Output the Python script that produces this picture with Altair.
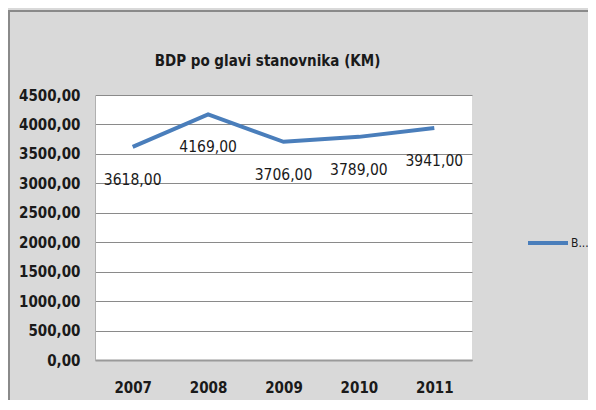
import altair as alt
import pandas as pd

years = ["2007", "2008", "2009", "2010", "2011"]
gdp = [3618, 4169, 3706, 3789, 3941]
series_name = "BDP po glavi stanovnika (KM)"
y_ticks = [0, 500, 1000, 1500, 2000, 2500, 3000, 3500, 4000, 4500]

df = pd.DataFrame({
    "year": years,
    "value": gdp,
    "series": [series_name] * len(years),
    "label": [f"{v:.2f}".replace(".", ",") for v in gdp],
})

FONT = "Liberation Sans Narrow, DejaVu Sans Condensed, sans-serif"

x_enc = alt.X("year:O", scale=alt.Scale(type="point", padding=0.5),
              axis=alt.Axis(title=None, labelAngle=0, ticks=False, domain=True,
                            domainColor="#9a9a9a", domainWidth=2,
                            labelFont=FONT, labelFontSize=15, labelFontWeight="bold",
                            labelColor="#1a1a1a", labelPadding=20, grid=False))
y_enc = alt.Y("value:Q", scale=alt.Scale(domain=[0, 4500], nice=False),
              axis=alt.Axis(title=None, values=y_ticks, ticks=False, labelOverlap=False,
                            domainColor="#b0b0b0", domainWidth=1,
                            gridColor="#8a8a8a", gridWidth=1,
                            labelExpr="replace(format(datum.value, '.2f'), '.', ',')",
                            labelFont=FONT, labelFontSize=15, labelFontWeight="bold",
                            labelColor="#1a1a1a", labelPadding=15))

frame = alt.Chart(pd.DataFrame({"a": [0]})).mark_rect(
    fill="transparent", stroke="#8a8a8a", strokeWidth=2
).encode(x=alt.value(-86), x2=alt.value(620), y=alt.value(-84), y2=alt.value(400))

line = alt.Chart(df).mark_line(strokeWidth=4).encode(
    x=x_enc, y=y_enc,
    color=alt.Color("series:N", scale=alt.Scale(range=["#4a7ebb"]),
                    legend=alt.Legend(title=None, orient="none", legendX=431, legendY=126,
                                      symbolType="stroke", symbolSize=1600, symbolStrokeWidth=4,
                                      labelExpr="slice(datum.label, 0, 1) + '...'",
                                      labelLimit=40, labelFont=FONT, labelFontSize=12,
                                      labelColor="#1a1a1a", labelOffset=1)),
)

labels = alt.Chart(df).mark_text(dy=33, font=FONT, fontSize=15.5, color="#1a1a1a").encode(
    x=x_enc, y=y_enc, text="label:N",
)

chart = alt.layer(frame, line, labels).properties(
    width=377, height=265,
    autosize=alt.AutoSizeParams(type="none"),
    padding={"left": 87, "top": 87, "right": 116, "bottom": 40},
    background="#d9d9d9",
    title=alt.Title(series_name, font=FONT, fontSize=15, fontWeight="bold",
                    color="#1a1a1a", anchor="middle", dx=-16, offset=0, dy=66,
                    baseline="middle", frame="group"),
).configure_view(fill="white", stroke=None)

chart.save("out.html", embed_options={"renderer": "svg", "actions": False})
